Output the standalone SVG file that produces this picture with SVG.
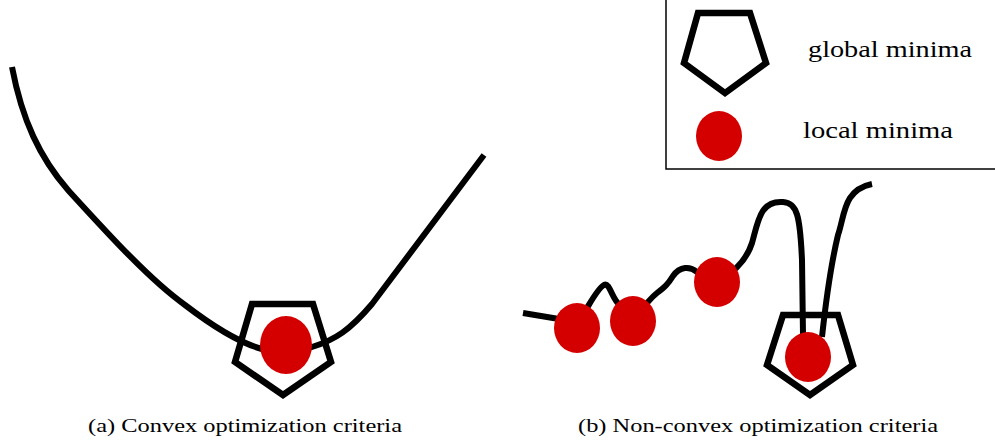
<svg xmlns="http://www.w3.org/2000/svg" width="995" height="441" viewBox="0 0 995 441">
<style>
.curve{fill:none;stroke:#000;stroke-width:6;stroke-linejoin:round}
.pent{fill:none;stroke:#000;stroke-width:6.5;stroke-linejoin:miter}
.dot{fill:#d40000}
.lbl{font-family:"Liberation Serif","DejaVu Serif",serif;font-size:23px;fill:#000}
.cap{font-family:"Liberation Serif","DejaVu Serif",serif;font-size:18px;fill:#000}
</style>
<rect width="995" height="441" fill="#fff"/>
<g id="connectors">
<path class="curve" d="M12,67 C22,120 40,158 68,190 C110,236 150,280 185,305 C215,328 240,343 262,349 C280,353 300,351 312,347 C335,340 350,330 372,304 L484,155"/>
<path class="curve" d="M523,313 L577,322 C585,315 595,290 604,285 C610,282 612,300 620,305 C625,310 630,318 633,321 C640,312 648,300 657,293 C665,287 668,284 673,276 C680,266 690,266 697,272 C705,278 710,282 717,282 C728,275 745,265 752,243 C758,222 760,200 783,202 C797,203 800,215 802,260 L803,335"/>
<path class="curve" d="M822,337 C826,300 832,260 838,235 C845,215 843,190 872,184"/>
</g>
<g id="convex-global">
<polygon class="pent" points="252,304 313,304 331,362 283,395 235,362"/>
</g>
<g id="convex-local">
<ellipse class="dot" cx="286" cy="345" rx="26" ry="29"/>
</g>
<g id="nonconvex-global">
<polygon class="pent" points="783,315 838,315 853,365 810,395 767,365"/>
</g>
<g id="local-1"><ellipse class="dot" cx="577" cy="328" rx="23" ry="25"/></g>
<g id="local-2"><ellipse class="dot" cx="633" cy="321" rx="23" ry="25"/></g>
<g id="local-3"><ellipse class="dot" cx="717" cy="282" rx="23" ry="25"/></g>
<g id="local-4"><ellipse class="dot" cx="808" cy="357" rx="23" ry="25"/></g>
<g id="legend">
<rect x="666" y="-1" width="332" height="170" fill="#fff" stroke="#000" stroke-width="1.5"/>
<polygon class="pent" points="698,13 750,13 766,63 725,93 684,63"/>
<text class="lbl" x="808" y="57" textLength="164" lengthAdjust="spacingAndGlyphs">global minima</text>
<ellipse class="dot" cx="719" cy="136" rx="23" ry="25"/>
<text class="lbl" x="803" y="138" textLength="150" lengthAdjust="spacingAndGlyphs">local minima</text>
</g>
<g id="captions">
<text class="cap" x="88" y="432" textLength="314" lengthAdjust="spacingAndGlyphs">(a) Convex optimization criteria</text>
<text class="cap" x="578" y="432" textLength="360" lengthAdjust="spacingAndGlyphs">(b) Non-convex optimization criteria</text>
</g>
</svg>
